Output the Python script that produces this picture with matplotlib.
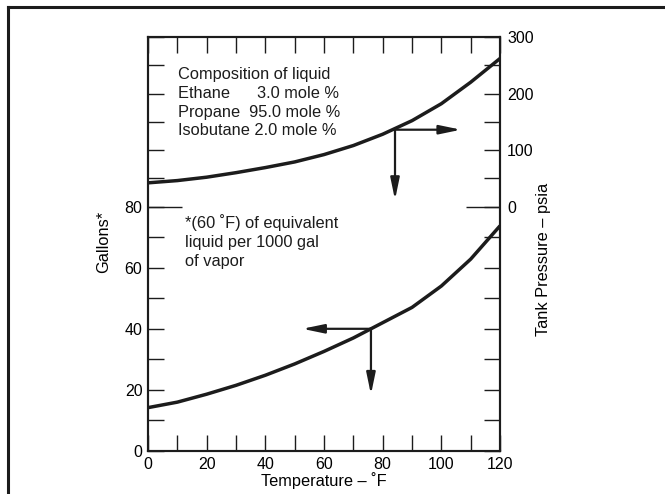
import matplotlib
matplotlib.use("Agg")
import matplotlib.pyplot as plt
from matplotlib.lines import Line2D
from matplotlib.ticker import FixedLocator

plt.rcParams['font.family'] = ['Liberation Sans', 'DejaVu Sans']

# data
temperature_f = [0, 10, 20, 30, 40, 50, 60, 70, 80, 90, 100, 110, 120]
gallons = [14.2, 16.0, 18.6, 21.5, 24.8, 28.5, 32.6, 37.0, 42.0, 47.0, 54.0, 62.8, 73.7]
pressure_psia = [42, 46, 52, 60, 69, 79, 92, 108, 128, 152, 182, 220, 262]

# reading guides (corner on the curve, then tips)
gal_corner = (76, 40)
gal_tip_left = (52.6, 40)
gal_tip_down = (76, 18.5)
psia_corner = (84.2, 136)
psia_tip_right = (106.7, 136)
psia_tip_down = (84.2, 12)

composition_lines = ["Composition of liquid",
                     "Ethane      3.0 mole %",
                     "Propane  95.0 mole %",
                     "Isobutane 2.0 mole %"]
footnote_lines = ["*(60 \u02daF) of equivalent",
                  "liquid per 1000 gal",
                  "of vapor"]

x_major = [0, 20, 40, 60, 80, 100, 120]
x_minor = [10, 30, 50, 70, 90, 110]
gal_major = [0, 20, 40, 60, 80]
gal_minor = [10, 30, 50, 70]
psia_major = [0, 100, 200, 300]
psia_minor = [50, 150, 250]

gal_top = 135.5
psia_per_gal = 300 / (gal_top - 80)

fig = plt.figure(figsize=(6.65, 4.94), dpi=100)
ax = fig.add_axes([0.2226, 0.0870, 0.5293, 0.8381])
ax2 = ax.twinx()

ink = '#1c1c1c'
curve_lw = 2.5
arrow_lw = 1.6
fs = 11.8

ax.plot(temperature_f, gallons, color=ink, lw=curve_lw,
        solid_capstyle='butt', solid_joinstyle='round')
ax2.plot(temperature_f, pressure_psia, color=ink, lw=curve_lw,
         solid_capstyle='butt', solid_joinstyle='round')

ax.set_xlim(0, 120)
ax.set_ylim(0, gal_top)
ax2.set_ylim(-80 * psia_per_gal, 300)

arrow_props = dict(arrowstyle='-|>,head_length=1.3,head_width=0.27', color=ink,
                   lw=arrow_lw, shrinkA=0, shrinkB=0, mutation_scale=10)
for tip in (gal_tip_left, gal_tip_down):
    ax2.annotate('', xy=tip, xytext=gal_corner, xycoords=ax.transData,
                 textcoords=ax.transData, arrowprops=arrow_props)
for tip in (psia_tip_right, psia_tip_down):
    ax2.annotate('', xy=tip, xytext=psia_corner, arrowprops=arrow_props)

# axes frame and ticks
for a in (ax, ax2):
    for s in a.spines.values():
        s.set_linewidth(1.5)
        s.set_color(ink)

ax.xaxis.set_major_locator(FixedLocator(x_major))
ax.xaxis.set_minor_locator(FixedLocator(x_minor))
ax.yaxis.set_major_locator(FixedLocator(gal_major))
ax.yaxis.set_minor_locator(FixedLocator(gal_minor))
ax2.yaxis.set_major_locator(FixedLocator(psia_major))
ax2.yaxis.set_minor_locator(FixedLocator(psia_minor))

ax.tick_params(axis='x', which='both', direction='in', length=11.5, width=1.0,
               top=True, bottom=True, labelsize=fs - 0.3, pad=4, color=ink)
ax.tick_params(axis='y', which='both', direction='in', length=11.5, width=1.0,
               left=True, right=True, labelsize=fs - 0.3, pad=4, color=ink)
ax2.tick_params(axis='y', which='both', direction='in', length=11.5, width=1.0,
                left=True, right=True, labelsize=fs - 0.3, pad=5, color=ink)

# the tick between the two scales is longer, on both sides
zero_tick = ax2.yaxis.get_major_ticks()[0]
zero_tick.tick1line.set_markersize(24.5)
zero_tick.tick2line.set_markersize(24.5)

ax.set_xlabel("Temperature \u2013 \u02daF", fontsize=fs, labelpad=0.5)
ax.set_ylabel("Gallons*", fontsize=fs)
ax.yaxis.set_label_coords(-0.105, 0.5056)
ax2.set_ylabel("Tank Pressure \u2013 psia", fontsize=fs)
ax2.yaxis.set_label_coords(1.102, 0.4626)

line_step = 0.0452
for i, line in enumerate(composition_lines):
    ax.text(0.086, 0.8978 - i * line_step, line, transform=ax.transAxes,
            fontsize=fs, va='baseline', ha='left', color=ink)
for i, line in enumerate(footnote_lines):
    ax.text(0.105, 0.538 - i * line_step, line, transform=ax.transAxes,
            fontsize=fs, va='baseline', ha='left', color=ink)

# page frame: top and left rule
fig.add_artist(Line2D([8 / 665, 1.0], [1 - 7 / 494, 1 - 7 / 494],
                      transform=fig.transFigure, color=ink, lw=2.2))
fig.add_artist(Line2D([8 / 665, 8 / 665], [0.0, 1 - 7 / 494],
                      transform=fig.transFigure, color=ink, lw=2.2))

fig.savefig("out.png", dpi=100)
